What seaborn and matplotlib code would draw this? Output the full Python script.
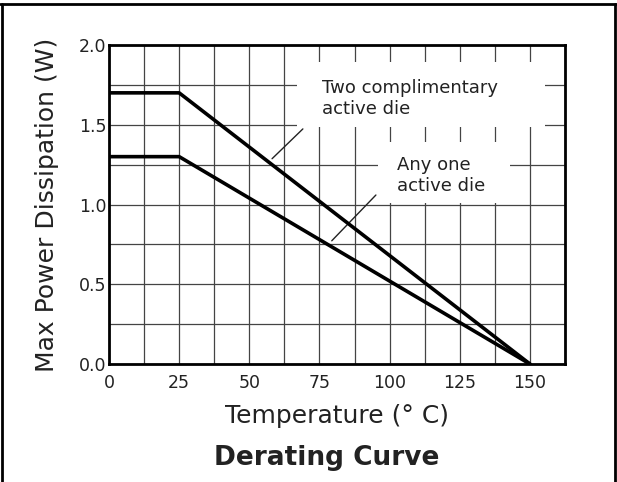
import matplotlib
matplotlib.use("Agg")
import matplotlib.pyplot as plt
from matplotlib.patches import Rectangle
from matplotlib.lines import Line2D
from matplotlib.ticker import MultipleLocator, FormatStrFormatter
import seaborn as sns
import pandas as pd

# Data
temperature = [0, 25, 150]
two_die_power = [1.7, 1.7, 0.0]
one_die_power = [1.3, 1.3, 0.0]
x_ticks = [0, 25, 50, 75, 100, 125, 150]
y_ticks = [0.0, 0.5, 1.0, 1.5, 2.0]
label_two = "Two complimentary\nactive die"
label_one = "Any one\nactive die"

sns.set_style("white")
plt.rcParams['font.family'] = ['DejaVu Sans']

df = pd.DataFrame({
    "T": temperature * 2,
    "P": two_die_power + one_die_power,
    "series": ["two"] * 3 + ["one"] * 3,
})

fig = plt.figure(figsize=(6.17, 4.82), dpi=100)
ax = fig.add_axes([109 / 617, 1 - 364 / 482, (565 - 109) / 617, (364 - 45) / 482])

sns.lineplot(data=df, x="T", y="P", hue="series", palette={"two": "black", "one": "black"},
             linewidth=2.6, legend=False, ax=ax, zorder=5, sort=False)

ax.set_xlim(0, 162.5)
ax.set_ylim(0, 2.0)
ax.set_xticks(x_ticks)
ax.set_yticks(y_ticks)
ax.yaxis.set_major_formatter(FormatStrFormatter('%.1f'))
ax.xaxis.set_minor_locator(MultipleLocator(12.5))
ax.yaxis.set_minor_locator(MultipleLocator(0.25))
ax.grid(True, which='both', color='#444444', linewidth=0.9, zorder=0)
ax.set_axisbelow(True)
ax.tick_params(which='both', length=0)
ax.tick_params(axis='y', pad=2, labelsize=12.5, colors='#222222')
ax.tick_params(axis='x', pad=7, labelsize=12.5, colors='#222222')
for s in ax.spines.values():
    s.set_color('black')
    s.set_linewidth(2.0)
    s.set_visible(True)

ax.set_xlabel("Temperature (° C)", fontsize=18, color='#222222', labelpad=9)
ax.set_ylabel("Max Power Dissipation (W)", fontsize=18, color='#222222', labelpad=14)

# white boxes behind annotation text
ax.add_patch(Rectangle((67.0, 1.486), 88.3, 0.407, facecolor='white', edgecolor='none', zorder=2))
ax.add_patch(Rectangle((95.8, 1.01), 47.1, 0.382, facecolor='white', edgecolor='none', zorder=2))

ax.text(75.9, 1.665, label_two, fontsize=13, ha='left', va='center', linespacing=1.25,
        color='#222222', zorder=3)
ax.text(102.6, 1.182, label_one, fontsize=13, ha='left', va='center', linespacing=1.25,
        color='#222222', zorder=3)

ax.annotate("", xy=(57.4, 1.275), xytext=(69.8, 1.486),
            arrowprops=dict(arrowstyle='-', color='#222222', lw=1.0), zorder=4)
ax.annotate("", xy=(78.7, 0.76), xytext=(95.8, 1.072),
            arrowprops=dict(arrowstyle='-', color='#222222', lw=1.0), zorder=4)

fig.text(327 / 617, 1 - 458 / 482, "Derating Curve", fontsize=19, fontweight='bold',
         ha='center', va='center', color='#222222')

# outer frame
fig.add_artist(Line2D([0, 1], [1 - 4 / 482, 1 - 4 / 482], color='black', lw=2, transform=fig.transFigure))
fig.add_artist(Line2D([2 / 617, 2 / 617], [0, 1 - 4 / 482], color='black', lw=2, transform=fig.transFigure))
fig.add_artist(Line2D([615 / 617, 615 / 617], [0, 1 - 4 / 482], color='black', lw=2, transform=fig.transFigure))

fig.savefig("out.png", dpi=100)
